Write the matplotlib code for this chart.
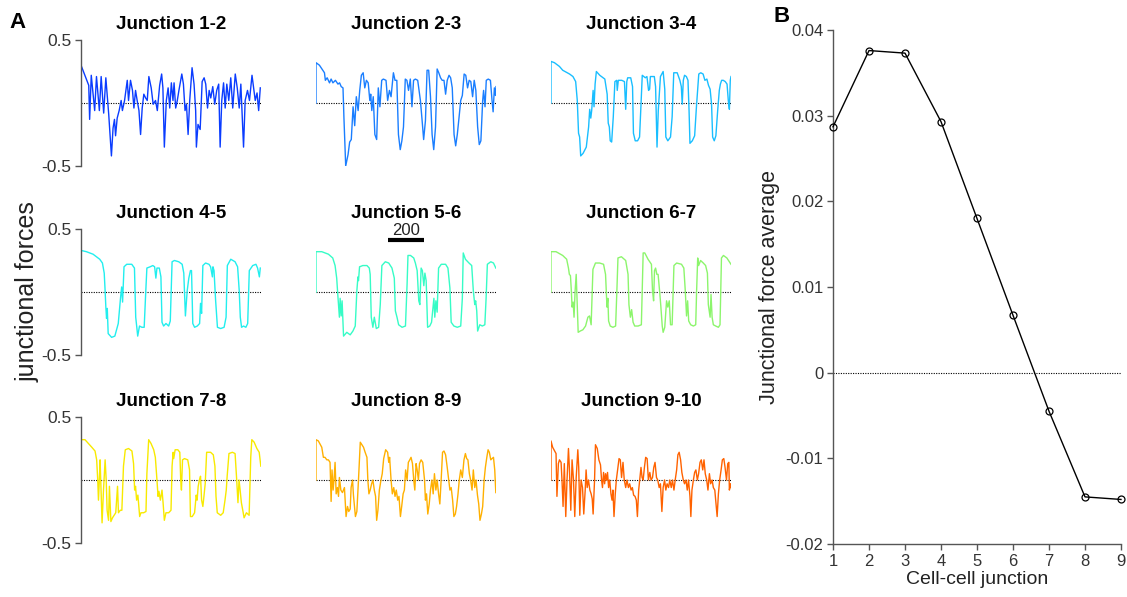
import matplotlib
matplotlib.use("Agg")
import matplotlib.pyplot as plt

plt.rcParams['font.family'] = ['Liberation Sans', 'DejaVu Sans']

# ---- junctional force traces: (time step, force) ----
j12 = [(0, 0.0), (0, 0.30), (43, 0.14), (48, -0.13), (57, 0.22), (76, -0.06), (86, 0.21), (102, -0.06),
       (112, 0.21), (126, -0.08), (138, 0.20), (154, -0.09), (169, -0.42), (178, -0.20), (186, -0.13),
       (192, -0.26), (201, -0.12), (212, -0.06), (223, 0.02), (230, -0.06), (242, 0.02), (257, 0.18),
       (264, 0.02), (275, 0.18), (286, 0.10), (294, -0.04), (303, 0.10), (312, 0.02), (322, -0.06),
       (331, -0.25), (340, -0.04), (349, 0.07), (359, 0.04), (368, 0.02), (377, 0.21), (390, 0.12),
       (401, -0.01), (414, 0.02), (424, -0.06), (437, 0.14), (448, 0.23), (455, 0.12), (463, -0.35),
       (474, 0.02), (484, 0.12), (493, -0.04), (502, 0.16), (511, 0.02), (517, 0.16), (526, -0.04),
       (535, 0.02), (544, 0.10), (560, 0.23), (569, 0.15), (578, -0.06), (586, -0.01), (595, -0.25),
       (604, 0.02), (617, 0.28), (628, 0.15), (637, -0.06), (641, -0.35), (650, -0.17), (662, -0.21),
       (673, 0.17), (684, 0.20), (693, 0.15), (703, -0.04), (712, 0.10), (721, 0.04), (732, 0.13),
       (743, -0.01), (754, 0.10), (765, 0.15), (773, -0.35), (782, 0.02), (792, 0.16), (801, -0.04),
       (810, 0.15), (821, 0.02), (832, 0.20), (843, -0.04), (857, 0.23), (868, 0.12), (879, -0.04),
       (888, 0.15), (903, -0.35), (912, 0.02), (925, 0.10), (936, 0.02), (950, 0.22), (959, 0.12),
       (968, 0.02), (978, 0.08), (987, -0.06), (996, 0.12)]

j23 = [(0, 0.0), (0, 0.32), (19, 0.30), (47, 0.24), (52, 0.18), (62, 0.20), (75, 0.16), (84, 0.19),
       (94, 0.16), (108, 0.18), (122, 0.15), (131, 0.16), (140, 0.13), (150, 0.12), (155, -0.11),
       (165, -0.50), (178, -0.41), (187, -0.31), (196, -0.29), (206, -0.03), (215, -0.18), (224, 0.05),
       (234, -0.06), (243, 0.10), (252, 0.22), (262, 0.24), (271, 0.12), (280, 0.18), (290, 0.16),
       (299, 0.02), (304, 0.07), (310, -0.06), (318, 0.05), (327, -0.25), (337, -0.29), (346, 0.12),
       (355, -0.03), (365, 0.18), (374, 0.19), (389, 0.18), (398, 0.02), (408, 0.10), (417, 0.05),
       (430, 0.24), (439, 0.18), (449, 0.18), (458, -0.25), (468, -0.37), (477, -0.30), (486, -0.19),
       (496, 0.19), (505, 0.18), (514, 0.10), (524, 0.19), (533, -0.03), (542, 0.18), (552, 0.19),
       (565, 0.18), (580, 0.02), (589, -0.13), (598, -0.29), (608, -0.14), (617, 0.26), (626, 0.26),
       (636, 0.05), (645, -0.25), (654, -0.37), (664, -0.19), (673, 0.27), (682, 0.24), (692, 0.20),
       (701, 0.18), (711, 0.18), (720, 0.07), (729, 0.18), (739, 0.22), (748, 0.20), (757, 0.12),
       (767, -0.25), (776, -0.34), (785, -0.25), (795, -0.11), (804, 0.02), (813, 0.06), (823, 0.23),
       (832, 0.22), (842, 0.12), (851, 0.18), (860, 0.17), (870, 0.05), (879, 0.18), (888, 0.10),
       (898, -0.19), (907, -0.33), (916, -0.30), (926, 0.02), (931, 0.10), (939, -0.03), (946, 0.18),
       (957, 0.19), (969, 0.18), (978, 0.02), (984, -0.07), (991, 0.12), (997, 0.06), (1000, 0.13)]

j34 = [(0, 0.0), (0, 0.33), (19, 0.32), (47, 0.29), (65, 0.26), (103, 0.23), (122, 0.21), (137, 0.17),
       (146, 0.02), (153, -0.24), (159, -0.27), (165, -0.42), (178, -0.40), (196, -0.35), (209, -0.19),
       (215, -0.05), (221, -0.12), (226, -0.06), (234, 0.10), (239, -0.03), (245, 0.15), (252, 0.25),
       (271, 0.22), (299, 0.19), (312, 0.07), (318, -0.16), (324, -0.19), (329, -0.30), (337, -0.31),
       (346, -0.11), (355, 0.17), (365, 0.18), (368, 0.10), (374, 0.18), (383, 0.18), (393, 0.18),
       (408, 0.17), (415, -0.05), (421, 0.17), (426, 0.20), (443, 0.20), (453, 0.13), (458, -0.24),
       (468, -0.30), (481, -0.30), (492, -0.27), (501, 0.02), (507, 0.22), (524, 0.20), (533, 0.21),
       (542, 0.10), (548, 0.11), (552, 0.21), (574, 0.21), (581, 0.13), (589, -0.35), (596, -0.06),
       (608, 0.21), (623, 0.25), (632, 0.11), (638, -0.27), (649, -0.30), (664, -0.27), (673, -0.11),
       (682, 0.24), (701, 0.24), (716, 0.18), (724, 0.13), (729, -0.01), (735, 0.18), (742, 0.22),
       (752, 0.21), (761, 0.18), (767, -0.06), (772, -0.32), (785, -0.30), (798, -0.26), (808, -0.03),
       (813, 0.07), (821, 0.23), (832, 0.24), (845, 0.23), (855, 0.18), (866, 0.19), (875, 0.14),
       (884, 0.11), (892, -0.01), (898, -0.27), (907, -0.30), (916, -0.26), (926, -0.06), (935, 0.10),
       (941, 0.15), (948, 0.18), (957, 0.18), (968, 0.17), (978, 0.15), (985, 0.02), (991, -0.05),
       (996, 0.18), (1000, 0.21)]

j45 = [(0, 0.0), (0, 0.33), (30, 0.32), (67, 0.30), (104, 0.26), (119, 0.23), (129, 0.15), (134, 0.01),
       (138, -0.12), (142, -0.21), (146, -0.13), (151, -0.33), (170, -0.36), (188, -0.35), (207, -0.25),
       (220, -0.04), (226, 0.04), (231, -0.08), (239, 0.20), (254, 0.22), (282, 0.22), (297, 0.19),
       (304, -0.20), (310, -0.28), (315, -0.35), (325, -0.27), (338, -0.28), (351, -0.28), (360, 0.01),
       (366, 0.19), (384, 0.20), (399, 0.21), (409, 0.20), (416, 0.11), (422, 0.19), (435, 0.19),
       (444, 0.12), (450, -0.24), (459, -0.27), (472, -0.25), (487, -0.27), (496, -0.23), (506, 0.24),
       (519, 0.25), (543, 0.24), (562, 0.22), (571, 0.15), (580, -0.19), (590, 0.01), (599, 0.11),
       (608, 0.17), (614, 0.17), (621, -0.25), (631, -0.28), (646, -0.27), (659, -0.25), (664, -0.09),
       (670, -0.17), (677, 0.21), (692, 0.23), (711, 0.22), (720, 0.20), (730, 0.12), (733, 0.20),
       (739, 0.17), (748, -0.07), (758, -0.28), (776, -0.29), (795, -0.28), (806, -0.20), (813, 0.21),
       (832, 0.26), (856, 0.24), (870, 0.20), (879, 0.01), (885, -0.20), (892, -0.28), (903, -0.27),
       (916, -0.28), (926, -0.25), (935, 0.17), (954, 0.21), (972, 0.22), (981, 0.19), (991, 0.12),
       (996, 0.19)]

j56 = [(0, 0.0), (0, 0.32), (32, 0.32), (69, 0.30), (93, 0.27), (106, 0.21), (115, 0.11), (121, -0.02),
       (130, -0.20), (134, -0.05), (140, -0.19), (145, -0.07), (153, -0.35), (171, -0.32), (190, -0.34),
       (205, -0.31), (218, -0.27), (227, 0.01), (233, 0.12), (236, 0.09), (242, 0.20), (260, 0.21),
       (283, 0.21), (296, 0.19), (301, 0.14), (307, -0.20), (316, -0.28), (324, -0.20), (335, -0.29),
       (348, -0.28), (357, -0.10), (366, 0.21), (385, 0.24), (404, 0.23), (422, 0.19), (435, 0.11),
       (441, -0.15), (450, -0.20), (459, -0.26), (478, -0.28), (497, -0.27), (506, 0.06), (511, 0.29),
       (525, 0.29), (543, 0.27), (552, 0.23), (562, 0.17), (571, -0.07), (577, -0.10), (584, 0.19),
       (591, 0.17), (599, 0.05), (605, 0.15), (612, 0.09), (620, -0.28), (632, -0.27), (642, -0.24),
       (655, -0.05), (660, -0.20), (666, -0.07), (673, -0.16), (681, 0.19), (696, 0.22), (720, 0.22),
       (733, 0.19), (744, 0.03), (751, -0.24), (766, -0.27), (785, -0.28), (804, -0.27), (813, -0.05),
       (818, 0.31), (830, 0.26), (850, 0.23), (865, 0.21), (874, 0.01), (882, -0.10), (887, -0.07),
       (893, -0.15), (898, -0.31), (910, -0.26), (924, -0.27), (938, -0.26), (945, -0.05), (952, 0.22),
       (971, 0.24), (986, 0.23), (999, 0.19)]

j67 = [(0, 0.0), (0, 0.32), (28, 0.32), (65, 0.29), (87, 0.26), (97, 0.19), (102, 0.14), (108, 0.13),
       (113, 0.01), (117, -0.12), (123, -0.08), (128, -0.20), (134, 0.01), (140, 0.14), (145, -0.07),
       (151, -0.32), (162, -0.31), (177, -0.30), (192, -0.27), (205, -0.20), (214, -0.19), (223, -0.26),
       (233, 0.18), (247, 0.23), (270, 0.23), (292, 0.22), (303, 0.14), (311, -0.12), (316, -0.05),
       (320, -0.23), (329, -0.27), (344, -0.28), (359, -0.27), (366, 0.01), (372, 0.27), (391, 0.28),
       (415, 0.25), (428, 0.14), (433, -0.10), (441, -0.20), (448, -0.14), (456, -0.24), (465, -0.27),
       (484, -0.27), (502, -0.26), (512, 0.31), (521, 0.31), (539, 0.26), (558, 0.22), (564, 0.01),
       (570, -0.07), (575, 0.17), (581, 0.19), (588, 0.14), (595, 0.14), (605, -0.02), (610, -0.11),
       (618, -0.27), (623, -0.32), (632, -0.28), (642, -0.07), (649, -0.12), (657, -0.07), (664, -0.26),
       (673, -0.26), (683, 0.21), (698, 0.23), (725, 0.22), (738, 0.19), (746, 0.01), (753, -0.19),
       (759, -0.07), (765, -0.23), (776, -0.26), (791, -0.27), (804, -0.26), (809, 0.01), (815, 0.27),
       (820, 0.21), (831, 0.25), (846, 0.23), (859, 0.21), (869, 0.15), (874, -0.10), (884, -0.20),
       (889, -0.02), (895, -0.20), (902, -0.26), (915, -0.27), (930, -0.28), (939, -0.26), (947, 0.27),
       (958, 0.29), (977, 0.27), (1000, 0.22)]

j78 = [(0, 0.0), (0, 0.32), (22, 0.32), (41, 0.29), (60, 0.26), (78, 0.23), (87, 0.16), (93, 0.0),
       (97, -0.16), (102, 0.0), (106, 0.16), (112, -0.11), (117, -0.34), (125, -0.08), (134, 0.16),
       (140, 0.0), (145, -0.24), (153, -0.32), (158, -0.05), (166, -0.33), (175, -0.30), (184, -0.28),
       (193, -0.26), (203, -0.05), (208, -0.26), (218, -0.24), (227, -0.24), (236, 0.11), (246, 0.24),
       (264, 0.25), (283, 0.23), (292, 0.13), (298, -0.08), (303, -0.05), (309, -0.16), (316, -0.12),
       (326, -0.29), (333, -0.26), (348, -0.26), (361, -0.25), (366, 0.05), (376, 0.32), (389, 0.29),
       (404, 0.24), (413, 0.18), (422, 0.0), (428, -0.13), (433, -0.09), (441, -0.16), (450, -0.08),
       (456, -0.18), (463, -0.32), (472, -0.26), (487, -0.26), (500, -0.24), (506, 0.11), (512, 0.22),
       (515, 0.17), (523, 0.24), (538, 0.24), (549, 0.22), (554, 0.0), (558, -0.08), (564, 0.16),
       (575, 0.17), (593, 0.16), (603, 0.08), (608, -0.29), (618, -0.29), (631, -0.26), (640, -0.12),
       (645, -0.16), (651, -0.05), (658, 0.0), (664, 0.03), (670, -0.16), (677, -0.21), (683, -0.13),
       (690, -0.03), (698, 0.22), (720, 0.22), (735, 0.20), (744, 0.11), (750, -0.13), (757, -0.26),
       (776, -0.28), (790, -0.26), (800, -0.16), (807, -0.08), (812, 0.03), (822, 0.21), (841, 0.22),
       (856, 0.21), (865, 0.0), (872, -0.18), (878, 0.0), (884, -0.08), (891, -0.18), (900, -0.25),
       (906, -0.30), (919, -0.26), (934, -0.28), (943, 0.18), (949, 0.32), (962, 0.30), (977, 0.25),
       (990, 0.22), (999, 0.11)]

j89 = [(0, 0.0), (0, 0.32), (13, 0.31), (32, 0.26), (41, 0.18), (50, 0.18), (60, 0.16), (69, 0.16),
       (78, 0.14), (84, -0.17), (89, 0.08), (95, -0.08), (100, 0.0), (106, 0.14), (112, -0.11),
       (119, -0.06), (125, -0.13), (130, 0.02), (138, -0.08), (147, -0.10), (158, -0.06), (167, -0.29),
       (175, -0.21), (182, -0.25), (190, -0.23), (195, -0.06), (203, 0.0), (208, -0.12), (214, -0.21),
       (219, -0.29), (227, -0.25), (236, 0.0), (246, 0.30), (264, 0.26), (273, 0.22), (283, 0.18),
       (288, 0.0), (294, -0.11), (301, -0.08), (309, -0.03), (316, 0.0), (324, -0.08), (331, -0.13),
       (337, -0.32), (344, -0.24), (352, -0.08), (361, 0.0), (368, 0.05), (376, 0.17), (387, 0.24),
       (398, 0.22), (404, 0.14), (409, 0.18), (417, 0.0), (424, -0.11), (432, -0.06), (439, -0.13),
       (446, -0.08), (454, -0.16), (461, -0.13), (469, -0.29), (476, -0.21), (484, -0.11), (491, -0.08),
       (498, 0.08), (506, 0.0), (513, 0.14), (521, 0.16), (528, 0.18), (536, 0.13), (543, 0.0),
       (549, -0.08), (556, 0.13), (562, 0.08), (569, 0.0), (575, 0.13), (584, 0.16), (593, 0.14),
       (603, 0.0), (608, -0.16), (614, -0.11), (621, -0.27), (629, -0.19), (636, -0.08), (644, 0.0),
       (651, -0.11), (658, 0.05), (666, -0.08), (673, 0.0), (681, -0.11), (688, -0.19), (696, 0.02),
       (703, 0.22), (711, 0.23), (720, 0.20), (729, 0.10), (737, 0.0), (744, -0.08), (751, -0.06),
       (759, -0.16), (766, -0.29), (774, -0.27), (781, -0.21), (789, -0.11), (796, 0.0), (804, 0.08),
       (813, 0.02), (822, 0.16), (830, 0.21), (837, 0.17), (844, 0.16), (852, 0.05), (859, 0.0),
       (867, -0.08), (874, 0.08), (882, -0.06), (889, 0.0), (897, -0.12), (904, -0.19), (911, -0.32),
       (919, -0.27), (926, -0.21), (934, 0.0), (941, 0.10), (949, 0.18), (956, 0.24), (963, 0.22),
       (971, 0.16), (978, 0.17), (986, 0.18), (993, 0.08), (999, -0.10)]

j910 = [(0, 0.0), (0, 0.31), (9, 0.26), (28, 0.21), (33, -0.13), (41, 0.13), (47, 0.16), (56, 0.14),
        (61, 0.0), (67, -0.21), (74, 0.13), (82, -0.29), (89, 0.0), (97, 0.25), (102, 0.10), (110, -0.24),
        (117, 0.16), (125, 0.0), (132, -0.29), (140, 0.02), (149, 0.24), (154, 0.10), (160, -0.28),
        (167, 0.0), (175, -0.06), (182, -0.27), (190, -0.08), (195, 0.08), (201, -0.06), (208, 0.0),
        (216, -0.08), (223, -0.11), (229, -0.15), (234, -0.27), (242, 0.0), (247, 0.28), (257, 0.25),
        (266, 0.16), (275, 0.12), (281, 0.0), (286, -0.06), (292, 0.06), (298, -0.03), (303, 0.05),
        (309, 0.0), (314, 0.06), (320, -0.06), (326, 0.0), (333, -0.11), (339, -0.16), (344, -0.08),
        (350, -0.29), (357, -0.11), (363, 0.0), (370, 0.08), (378, 0.17), (385, 0.16), (392, 0.02),
        (400, 0.14), (407, 0.0), (415, -0.06), (422, 0.0), (430, -0.06), (437, -0.03), (445, -0.08),
        (452, -0.06), (459, -0.12), (467, -0.13), (474, -0.16), (480, -0.29), (487, -0.08), (493, 0.0),
        (500, 0.10), (506, 0.02), (512, 0.0), (519, 0.10), (526, 0.18), (534, 0.17), (541, 0.0),
        (549, 0.06), (556, 0.0), (564, 0.02), (571, 0.10), (578, 0.14), (586, 0.02), (593, 0.0),
        (601, -0.06), (608, -0.03), (616, -0.25), (623, -0.06), (631, 0.0), (638, -0.08), (645, -0.03),
        (653, -0.06), (660, 0.0), (668, -0.06), (675, 0.0), (683, -0.08), (690, 0.0), (698, 0.08),
        (705, 0.20), (712, 0.22), (720, 0.16), (727, 0.06), (735, 0.0), (742, -0.03), (750, 0.0),
        (757, -0.08), (764, 0.0), (772, -0.13), (777, -0.29), (783, -0.08), (791, 0.0), (798, 0.06),
        (805, 0.08), (813, 0.0), (820, 0.05), (828, 0.14), (835, 0.16), (843, 0.08), (850, 0.16),
        (857, 0.05), (865, 0.0), (872, -0.08), (880, 0.05), (887, -0.03), (895, 0.0), (902, -0.06),
        (910, -0.08), (917, -0.19), (923, -0.29), (930, -0.11), (937, 0.0), (945, 0.08), (952, 0.16),
        (960, 0.17), (967, 0.10), (975, 0.0), (982, 0.13), (988, 0.14), (991, -0.08), (997, -0.03),
        (1000, -0.06)]

traces = [j12, j23, j34, j45, j56, j67, j78, j89, j910]
titles = ["Junction 1-2", "Junction 2-3", "Junction 3-4",
          "Junction 4-5", "Junction 5-6", "Junction 6-7",
          "Junction 7-8", "Junction 8-9", "Junction 9-10"]
colors = ["#0a3cff", "#1a7eff", "#19beff",
          "#22eeee", "#36fcc6", "#8cf56c",
          "#f8ea00", "#ffb000", "#ff6200"]

# ---- mean junctional force per cell-cell junction ----
junction_idx = [1, 2, 3, 4, 5, 6, 7, 8, 9]
force_avg = [0.0287, 0.0376, 0.0373, 0.0293, 0.0180, 0.0067, -0.0045, -0.0145, -0.0148]

W, H = 1127, 597
fig = plt.figure(figsize=(W / 100, H / 100), dpi=100)

col_left = [81, 316, 551]
row_top = [40, 229, 417]
pw, ph = 180, 126
tick_col = "#333333"
spine_col = "#555555"

for k, (tr, title, col) in enumerate(zip(traces, titles, colors)):
    r, c = divmod(k, 3)
    ax = fig.add_axes([col_left[c] / W, 1 - (row_top[r] + ph) / H, pw / W, ph / H])
    t = [p[0] for p in tr]
    f = [p[1] for p in tr]
    ax.plot([0, 1000], [0, 0], ls=(0, (1, 1.2)), color="black", lw=0.8, zorder=1)
    ax.plot(t, f, color=col, lw=1.0, zorder=2)
    ax.set_xlim(0, 1000)
    ax.set_ylim(-0.5, 0.5)
    ax.set_title(title, fontsize=13.5, fontweight="bold", pad=8)
    for s in ["top", "right", "bottom"]:
        ax.spines[s].set_visible(False)
    ax.set_xticks([])
    if c == 0:
        ax.spines["left"].set_color(spine_col)
        ax.spines["left"].set_linewidth(1.0)
        ax.set_yticks([-0.5, 0.5])
        ax.set_yticklabels(["-0.5", "0.5"])
        ax.tick_params(axis="y", direction="out", length=4, width=1.0,
                       colors=spine_col, labelcolor=tick_col, labelsize=12.5, pad=3)
    else:
        ax.spines["left"].set_visible(False)
        ax.set_yticks([])
    ax.patch.set_alpha(0)
    if k == 4:
        # time scale bar (200 steps)
        ax.plot([400, 600], [0.41, 0.41], color="black", lw=3, solid_capstyle="butt", clip_on=False)
        ax.text(500, 0.43, "200", ha="center", va="bottom", fontsize=12, color="#222222")

fig.text(28 / W, 1 - 292 / H, "junctional forces", rotation=90, ha="center", va="center",
         fontsize=18, color="#222222")
fig.text(18 / W, 1 - 22 / H, "A", ha="center", va="center", fontsize=16, fontweight="bold")
fig.text(782 / W, 1 - 16 / H, "B", ha="center", va="center", fontsize=16, fontweight="bold")

# ---- panel B ----
axb = fig.add_axes([833 / W, 1 - 544 / H, 288 / W, 514 / H])
axb.axhline(0, ls=(0, (1, 1.2)), color="black", lw=0.8)
axb.plot(junction_idx, force_avg, color="black", lw=1.0, marker="o", ms=5,
         mfc="none", mec="black", mew=0.9, clip_on=False, zorder=3)
axb.set_xlim(1, 9)
axb.set_ylim(-0.02, 0.04)
axb.set_xticks(junction_idx)
yt = [-0.02, -0.01, 0, 0.01, 0.02, 0.03, 0.04]
axb.set_yticks(yt)
axb.set_yticklabels(["-0.02", "-0.01", "0", "0.01", "0.02", "0.03", "0.04"])
for s in ["top", "right"]:
    axb.spines[s].set_visible(False)
for s in ["left", "bottom"]:
    axb.spines[s].set_color(spine_col)
    axb.spines[s].set_linewidth(1.0)
axb.tick_params(direction="out", length=4, width=1.0, colors=spine_col,
                labelcolor=tick_col, labelsize=12, pad=3)
axb.set_xlabel("Cell-cell junction", fontsize=14, color="#222222", labelpad=2)
axb.set_ylabel("Junctional force average", fontsize=15.5, color="#222222", labelpad=4)
axb.patch.set_alpha(0)

fig.savefig("out.png", dpi=100)
